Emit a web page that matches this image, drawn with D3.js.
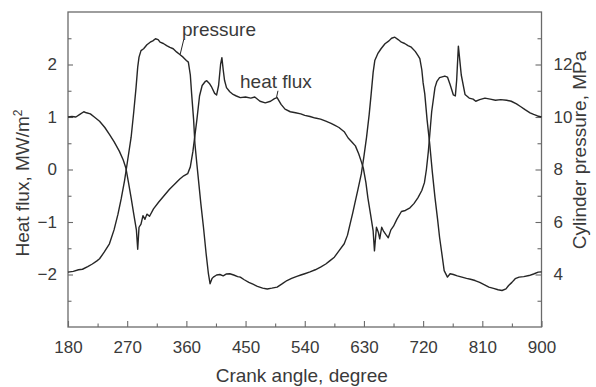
<!DOCTYPE html>
<html><head><meta charset="utf-8">
<script src="https://cdn.jsdelivr.net/npm/d3@7"></script>
<style>
html,body{margin:0;padding:0;background:#fff;}
svg{display:block;}
text{font-family:"Liberation Sans",Arial,sans-serif;fill:#3a3a3a;}
</style></head>
<body>
<svg id="c" width="596" height="387"></svg>
<script>
// ---- data ----
const hfAngle = [180,186,192,198,204,208,214,220,228,236,243,250,258,264,268,272,276,280,284,286,288,291,294,297,300,304,310,318,326,334,342,350,356,362,366,370,373,376,380,384,389,391,395,398,403,406,409,412,414,416,418,421,426,431,436,442,450,458,464,472,480,488,494,498,504,510,518,526,534,540,548,556,564,572,580,586,592,600,606,612,617,622,626,629,633,636,640,644,646,649,652,654,657,660,664,667,671,675,680,687,693,700,706,712,718,722,725,728,731,733,738,741,745,753,757,761,766,769,771,773.6,776,778,783.7,790,796,800,806,814,822,830,838,847,854,862,868,875,882.6,888,894,900];
const hfValue = [1.00,1.01,1.00,1.05,1.10,1.08,1.06,1.00,0.92,0.80,0.67,0.53,0.35,0.18,0.03,-0.25,-0.54,-0.85,-1.15,-1.52,-1.10,-1.04,-0.88,-0.95,-0.85,-0.89,-0.75,-0.62,-0.50,-0.38,-0.28,-0.18,-0.12,-0.08,0.05,0.35,0.65,0.95,1.40,1.60,1.68,1.69,1.64,1.58,1.45,1.42,1.60,2.00,2.13,1.90,1.70,1.56,1.48,1.43,1.40,1.37,1.38,1.36,1.38,1.30,1.27,1.30,1.35,1.37,1.24,1.15,1.10,1.08,1.06,1.03,1.01,0.98,0.96,0.92,0.88,0.84,0.80,0.72,0.60,0.52,0.45,0.30,0.15,0.03,-0.25,-0.54,-0.85,-1.17,-1.55,-1.10,-1.20,-1.32,-1.10,-1.18,-1.25,-1.30,-1.15,-1.08,-0.95,-0.80,-0.78,-0.73,-0.65,-0.54,-0.40,-0.25,0.00,0.35,0.80,1.10,1.56,1.68,1.75,1.78,1.76,1.62,1.42,1.40,1.70,2.35,2.05,1.80,1.43,1.36,1.34,1.30,1.33,1.36,1.34,1.32,1.33,1.32,1.30,1.25,1.20,1.14,1.08,1.05,1.02,1.00];

const pAngle = [180,188,196,202,210,217,224,228,235,243,250,256,261,266,271,276,280,283.5,286,288,291,295,300,305,309,313,317,320,325,330,335,340,345,350,355,360,363,366,368,371,373,376,378,382,386,390,393.5,396,399,401,406,411,416,421,426,432,438,442,448,455,462,468,476,483,490,498,506,513,520,528,534,540,548,556,564,572,578,585,592,600,605,609,613,616,621,626,630,634,638,641,644,646.5,651,656,662,668,672,677,682,687,692,697,702,708,712,715,718,720,722.5,726,730,734,738,742,745,749,752,757,761,766,772,779,786,792,799,806,812,820,827,834,840,846,850,855,860,866,873,881,888,895,900];
const pValue = [4.09,4.12,4.18,4.20,4.30,4.40,4.52,4.60,4.85,5.17,5.70,6.30,6.90,7.58,8.40,9.23,10.20,11.13,11.90,12.28,12.53,12.60,12.75,12.85,12.90,12.98,12.95,12.85,12.80,12.72,12.65,12.60,12.48,12.38,12.28,12.15,12.09,11.60,10.88,9.90,8.98,8.20,7.70,6.70,5.80,4.80,4.03,3.65,3.85,3.90,3.98,4.00,3.95,4.02,4.03,3.98,3.92,3.90,3.80,3.70,3.62,3.55,3.48,3.45,3.48,3.52,3.65,3.77,3.85,3.93,3.98,4.03,4.10,4.18,4.28,4.40,4.52,4.66,4.90,5.17,5.50,5.93,6.35,6.69,7.25,7.83,8.50,9.23,10.10,10.88,11.70,12.15,12.41,12.60,12.79,12.90,13.00,13.04,12.95,12.85,12.80,12.72,12.66,12.50,12.35,12.22,11.80,11.30,10.88,9.90,8.98,7.90,6.94,6.10,5.42,4.70,4.15,3.90,4.03,4.00,3.95,3.90,3.85,3.82,3.77,3.70,3.62,3.52,3.47,3.42,3.39,3.45,3.58,3.70,3.84,3.90,3.92,3.96,4.02,4.09,4.10];

const xTicks = [180,270,360,450,540,630,720,810,900];
const xMinor = [225,315,405,495,585,675,765,855];
const leftTicks = [-2,-1,0,1,2];
const leftMinor = [-2.5,-1.5,-0.5,0.5,1.5,2.5];
const rightTicks = [4,6,8,10,12];
const rightMinor = [3,5,7,9,11,13];

// ---- layout ----
const L = 68, R = 541.5, T = 12, B = 327;
const svg = d3.select("#c");
const x = d3.scaleLinear().domain([180,900]).range([L,R]);
const yL = d3.scaleLinear().domain([-3,3]).range([B,T]);
const yR = d3.scaleLinear().domain([2,14]).range([B,T]);
const axisColor = "#6a6a6a";
const lineColor = "#262626";

function styleAxis(g){
  g.select(".domain").remove();
  g.selectAll(".tick line").attr("stroke",axisColor).attr("stroke-width",1.1);
  g.selectAll(".tick text").attr("font-size",17).attr("fill","#3a3a3a").attr("font-family","Liberation Sans, Arial, sans-serif");
}

// bottom axis
svg.append("g").attr("transform",`translate(0,${B})`)
  .call(d3.axisBottom(x).tickValues(xTicks).tickSizeInner(-6).tickSizeOuter(0).tickPadding(14))
  .call(styleAxis);
svg.append("g").attr("transform",`translate(0,${B})`)
  .call(d3.axisBottom(x).tickValues(xMinor).tickSizeInner(-3.5).tickSizeOuter(0).tickFormat(""))
  .call(styleAxis);
// left axis
svg.append("g").attr("transform",`translate(${L},0)`)
  .call(d3.axisLeft(yL).tickValues(leftTicks).tickSizeInner(-5).tickSizeOuter(0).tickPadding(11).tickFormat(d3.format("d")))
  .call(styleAxis);
svg.append("g").attr("transform",`translate(${L},0)`)
  .call(d3.axisLeft(yL).tickValues(leftMinor).tickSizeInner(-3.5).tickSizeOuter(0).tickFormat(""))
  .call(styleAxis);
// right axis
svg.append("g").attr("transform",`translate(${R},0)`)
  .call(d3.axisRight(yR).tickValues(rightTicks).tickSizeInner(-6).tickSizeOuter(0).tickPadding(12).tickFormat(d3.format("d")))
  .call(styleAxis);
svg.append("g").attr("transform",`translate(${R},0)`)
  .call(d3.axisRight(yR).tickValues(rightMinor).tickSizeInner(-4).tickSizeOuter(0).tickFormat(""))
  .call(styleAxis);

// frame
svg.append("rect").attr("x",L).attr("y",T).attr("width",R-L).attr("height",B-T)
  .attr("fill","none").attr("stroke",axisColor).attr("stroke-width",1.3);

// lines
const hfData = hfAngle.map((a,i)=>[a,hfValue[i]]);
const pData = pAngle.map((a,i)=>[a,pValue[i]]);
svg.append("path").datum(hfData)
  .attr("d",d3.line().x(d=>x(d[0])).y(d=>yL(d[1])))
  .attr("fill","none").attr("stroke",lineColor).attr("stroke-width",1.4).attr("stroke-linejoin","round");
svg.append("path").datum(pData)
  .attr("d",d3.line().x(d=>x(d[0])).y(d=>yR(d[1])))
  .attr("fill","none").attr("stroke",lineColor).attr("stroke-width",1.4).attr("stroke-linejoin","round");

// annotations
svg.append("text").attr("x",x(353.4)).attr("y",yR(13.07)).attr("font-size",19).text("pressure");
svg.append("line").attr("x1",x(356)).attr("y1",yR(12.95)).attr("x2",x(350.5)).attr("y2",yR(12.38))
  .attr("stroke",lineColor).attr("stroke-width",1);
svg.append("text").attr("x",x(441.6)).attr("y",yL(1.55)).attr("font-size",19).text("heat flux");
svg.append("line").attr("x1",x(499.3)).attr("y1",yL(1.50)).attr("x2",x(497)).attr("y2",yL(1.37))
  .attr("stroke",lineColor).attr("stroke-width",1);

// axis titles
svg.append("text").attr("x",(L+R)/2+ -3).attr("y",382).attr("text-anchor","middle").attr("font-size",19)
  .text("Crank angle, degree");
const lt = svg.append("text").attr("transform","translate(29,183) rotate(-90)").attr("text-anchor","middle").attr("font-size",19);
lt.append("tspan").text("Heat flux, MW/m");
lt.append("tspan").attr("dy",-7).attr("font-size",12).text("2");
svg.append("text").attr("transform","translate(586,150) rotate(-90)").attr("text-anchor","middle").attr("font-size",19)
  .text("Cylinder pressure, MPa");
</script>
</body></html>
